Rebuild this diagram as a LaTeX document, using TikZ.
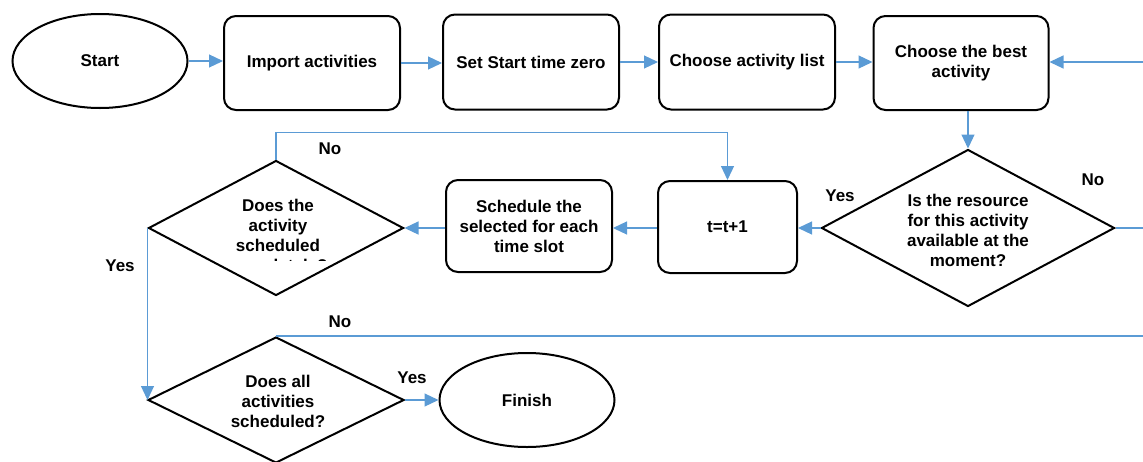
\documentclass[tikz,border=0pt]{standalone}
\usepackage{fontspec}
\setmainfont{Liberation Sans}
\usetikzlibrary{shapes.geometric,arrows.meta}
\definecolor{flow}{HTML}{5B9BD5}
\begin{document}
\begin{tikzpicture}[x=1pt,y=-1pt,
  every node/.style={font=\fontsize{17}{20}\selectfont\bfseries},
  box/.style={draw=black,line width=2pt,rounded corners=12pt,align=center,inner sep=0pt},
  oval/.style={draw=black,line width=2pt,ellipse,inner sep=0pt,minimum width=175pt,minimum height=94pt},
  dia/.style={draw=black,line width=2pt,diamond,inner sep=0pt},
  txt/.style={align=center,inner sep=0pt},
  lbl/.style={inner sep=0pt},
  flowline/.style={draw=flow,line width=1.2pt},
  arr/.style={flowline,-{Triangle[length=14pt,width=13pt]}}]
\useasboundingbox (0,0) rectangle (1143,461);
% nodes
\node[oval] (start) at (100,61) {Start};
\node[box,minimum width=176pt,minimum height=94pt] (imp) at (312,63) {Import activities};
\node[box,minimum width=176pt,minimum height=95pt] (set) at (531,62) {Set Start time zero};
\node[box,minimum width=176pt,minimum height=95pt] (list) at (747,62) {Choose activity list};
\node[box,minimum width=175pt,minimum height=94pt] (best) at (961,63) {Choose the best\\activity};
\node[dia,minimum width=293pt,minimum height=157pt] (d2) at (968,228) {};
\node[txt] (d2t) at (968,230) {Is the resource\\for this activity\\available at the\\moment?};
\node[box,minimum width=139pt,minimum height=92pt] (tt) at (727.5,227) {t=t+1};
\node[box,minimum width=166pt,minimum height=92pt] (sch) at (529,226) {Schedule the\\selected for each\\time slot};
\node[dia,minimum width=255pt,minimum height=135pt] (d1) at (276,228) {};
\begin{scope}
  \clip (180,150) rectangle (380,260);
  \node[txt] (d1t) at (278,237) {Does the\\activity\\scheduled\\completely?};
\end{scope}
\node[dia,minimum width=256pt,minimum height=126pt] (d3) at (276,400) {};
\node[txt] (d3t) at (278,401) {Does all\\activities\\scheduled?};
\node[oval] (fin) at (527,400) {Finish};
% free ends on the right edge
\coordinate (e1) at (1143,62);
\coordinate (e2) at (1143,228);
\coordinate (e3) at (d3.north -| e2);
% connectors
\draw[arr] (start.east) -- (start.east -| imp.west);
\draw[arr] (imp.east) -- (imp.east -| set.west);
\draw[arr] (set.east) -- (set.east -| list.west);
\draw[arr] (list.east) -- (list.east -| best.west);
\draw[arr] (e1) -- (e1 -| best.east);
\draw[arr] (best.south -| d2.north) -- (d2.north);
\draw[flowline] (d2.east) -- (e2);
\draw[arr] (d2.west) -- (d2.west -| tt.east);
\draw[arr] (d2.west -| tt.west) -- (d2.west -| sch.east);
\draw[arr] (d1.east -| sch.west) -- (d1.east);
\draw[arr] (d1.north) -- ++(0,-27) -| (tt.north);
\draw[arr] (d1.west) -- (d1.west |- d3.west);
\draw[flowline] (d3.north) -- (e3);
\draw[arr] (d3.east) -- (fin.west);
% labels
\node[lbl] (l1) at (330,149) {No};
\node[lbl] (l2) at (1093,180) {No};
\node[lbl] (l3) at (840,196) {Yes};
\node[lbl] (l4) at (120,266) {Yes};
\node[lbl] (l5) at (340,322) {No};
\node[lbl] (l6) at (412,378) {Yes};
\end{tikzpicture}
\end{document}
